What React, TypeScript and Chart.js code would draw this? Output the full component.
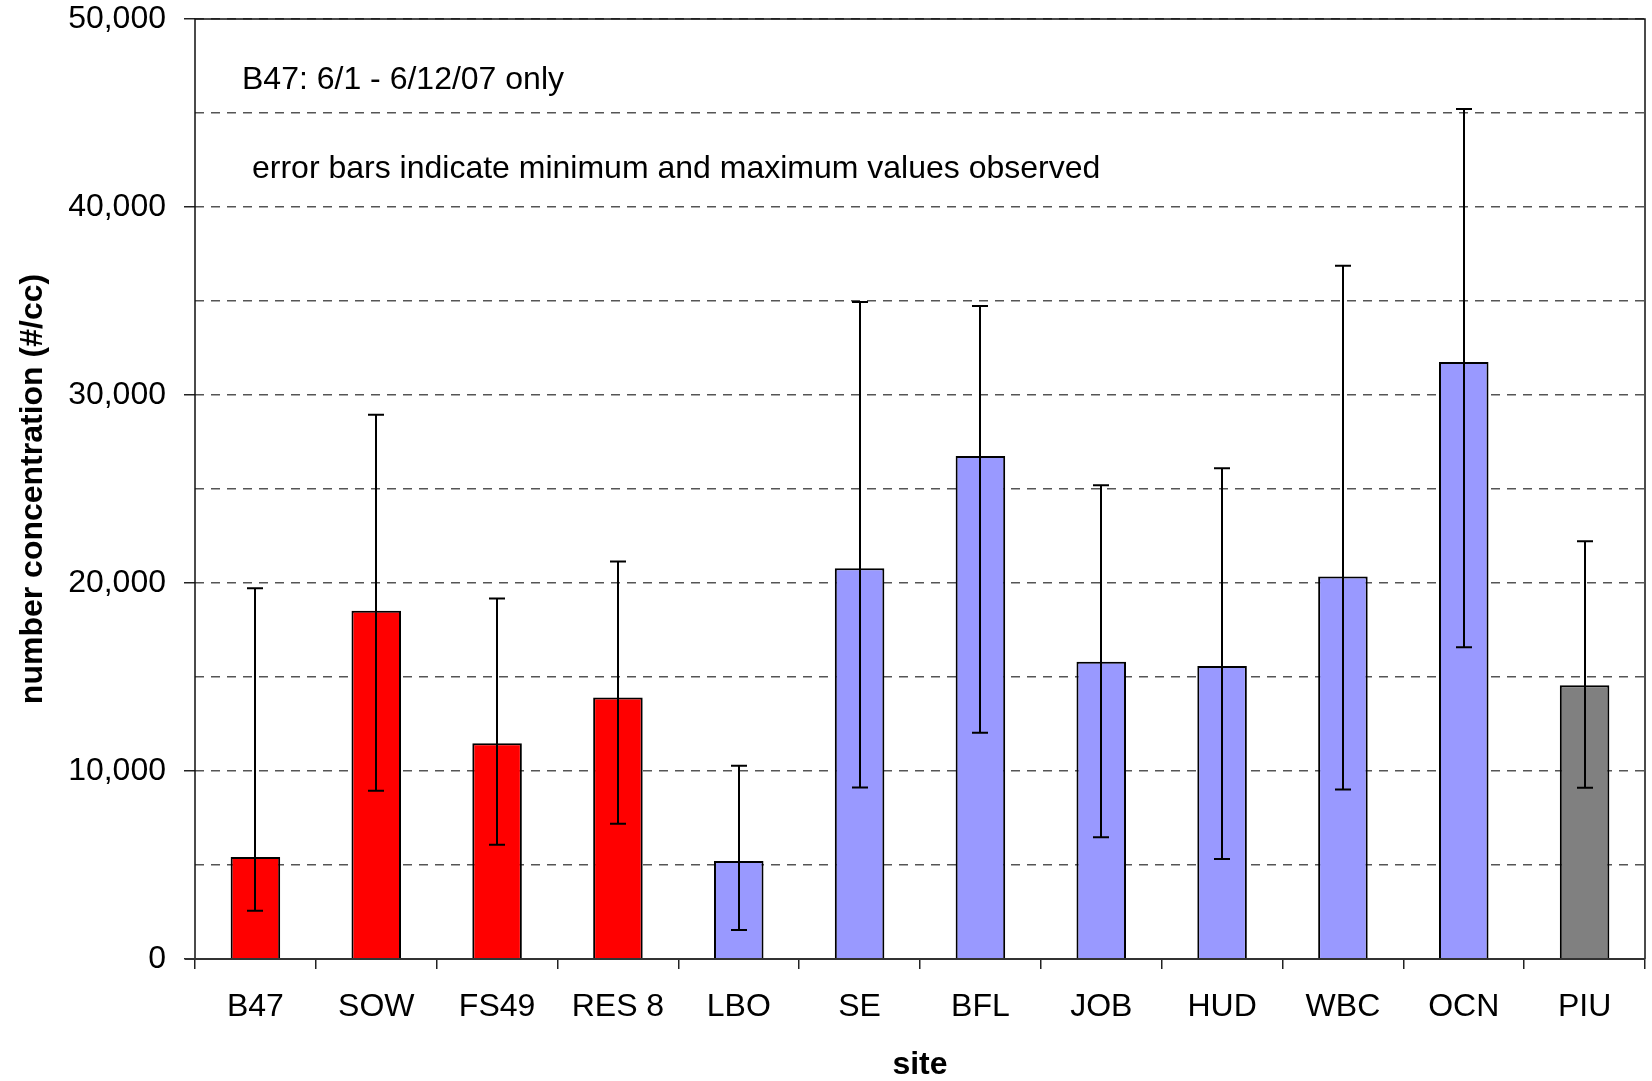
import React, { useEffect, useRef } from 'react';
import { Chart, registerables } from 'chart.js';

Chart.register(...registerables);

const sites = ['B47', 'SOW', 'FS49', 'RES 8', 'LBO', 'SE', 'BFL', 'JOB', 'HUD', 'WBC', 'OCN', 'PIU'];
const meanValues = [5420, 18520, 11470, 13910, 5210, 20780, 26760, 15810, 15590, 20340, 31750, 14560];
const minValues = [2560, 8950, 6080, 7200, 1540, 9120, 12030, 6480, 5320, 9010, 16580, 9110];
const maxValues = [19720, 28950, 19170, 21140, 10280, 34950, 34730, 25200, 26100, 36880, 45210, 22220];
const barColors = ['#FF0000', '#FF0000', '#FF0000', '#FF0000', '#9999FF', '#9999FF', '#9999FF', '#9999FF', '#9999FF', '#9999FF', '#9999FF', '#808080'];
const noteLines = ['B47: 6/1 - 6/12/07 only', 'error bars indicate minimum and maximum values observed'];
const yAxisTitle = 'number concentration (#/cc)';
const xAxisTitle = 'site';

const FONT = '"Liberation Sans", Arial, Helvetica, sans-serif';

const errorBarsPlugin = {
  id: 'errorBars',
  afterDatasetsDraw(chart: any) {
    const ctx = chart.ctx;
    const meta = chart.getDatasetMeta(0);
    const y = chart.scales.y;
    ctx.save();
    ctx.strokeStyle = '#000';
    ctx.lineWidth = 2;
    meta.data.forEach((bar: any, i: number) => {
      const x = Math.round(bar.x);
      const yMin = y.getPixelForValue(minValues[i]);
      const yMax = y.getPixelForValue(maxValues[i]);
      const cap = 8;
      ctx.beginPath();
      ctx.moveTo(x, yMin);
      ctx.lineTo(x, yMax);
      ctx.moveTo(x - cap, yMin);
      ctx.lineTo(x + cap, yMin);
      ctx.moveTo(x - cap, yMax);
      ctx.lineTo(x + cap, yMax);
      ctx.stroke();
    });
    ctx.restore();
  },
};

const frameAndNotesPlugin = {
  id: 'frameAndNotes',
  afterDraw(chart: any) {
    const ctx = chart.ctx;
    const a = chart.chartArea;
    ctx.save();
    ctx.strokeStyle = '#111';
    ctx.lineWidth = 1.5;
    ctx.beginPath();
    ctx.moveTo(a.left, a.bottom);
    ctx.lineTo(a.left, a.top);
    ctx.lineTo(a.right, a.top);
    ctx.lineTo(a.right, a.bottom);
    ctx.stroke();
    ctx.strokeStyle = '#333';
    ctx.lineWidth = 2;
    ctx.beginPath();
    ctx.moveTo(a.left - 10, a.bottom);
    ctx.lineTo(a.right, a.bottom);
    ctx.stroke();
    ctx.fillStyle = '#000';
    ctx.font = `32px ${FONT}`;
    ctx.textAlign = 'left';
    ctx.textBaseline = 'alphabetic';
    ctx.fillText(noteLines[0], a.left + 47, a.top + 70);
    ctx.fillText(noteLines[1], a.left + 57, a.top + 159);
    ctx.restore();
  },
};

export default function App() {
  const ref = useRef<HTMLCanvasElement | null>(null);

  useEffect(() => {
    document.body.style.margin = '0';
    const canvas = ref.current;
    if (!canvas) return;
    const chart = new Chart(canvas, {
      type: 'bar',
      data: {
        labels: sites,
        datasets: [
          {
            data: meanValues,
            backgroundColor: barColors,
            borderColor: '#000',
            borderWidth: 2,
            categoryPercentage: 1,
            barPercentage: 0.41,
          },
        ],
      },
      options: {
        responsive: false,
        animation: false,
        devicePixelRatio: 1,
        layout: { padding: { top: 0, right: 7, bottom: 0, left: 0 } },
        plugins: {
          legend: { display: false },
          tooltip: { enabled: false },
          title: { display: false },
        },
        scales: {
          x: {
            offset: true,
            grid: {
              offset: true,
              drawOnChartArea: false,
              drawTicks: true,
              tickLength: 10,
              color: '#222',
              lineWidth: 1.5,
            },
            border: { display: false },
            ticks: {
              color: '#000',
              padding: 19,
              maxRotation: 0,
              autoSkip: false,
              font: { family: FONT, size: 32, lineHeight: 1.2 },
            },
            title: {
              display: true,
              text: xAxisTitle,
              color: '#000',
              padding: { top: 1, bottom: 0 },
              font: { family: FONT, size: 32, weight: 'bold', lineHeight: 1.0 },
            },
            afterFit: (s: any) => {
              s.height = 122;
            },
          },
          y: {
            min: 0,
            max: 50000,
            grid: {
              color: '#555',
              lineWidth: 1.5,
              drawTicks: true,
              tickLength: 11,
              tickWidth: 1.5,
              tickColor: (c: any) => (c.tick && c.tick.value % 10000 === 0 ? '#222' : 'rgba(0,0,0,0)'),
            },
            border: { display: false, dash: [9, 7] },
            ticks: {
              stepSize: 5000,
              color: '#000',
              padding: 18,
              font: { family: FONT, size: 32, lineHeight: 1.2 },
              callback: (v: any) => (Number(v) % 10000 === 0 ? Number(v).toLocaleString('en-US') : ''),
            },
            title: {
              display: true,
              text: yAxisTitle,
              color: '#000',
              padding: { top: 14, bottom: 0 },
              font: { family: FONT, size: 32, weight: 'bold', lineHeight: 1.2 },
            },
            afterFit: (s: any) => {
              s.width = 195;
              s.paddingTop = 19;
              s.paddingBottom = 0;
            },
          },
        },
      },
      plugins: [errorBarsPlugin, frameAndNotesPlugin],
    });
    return () => chart.destroy();
  }, []);

  return (
    <div style={{ position: 'fixed', left: 0, top: 0, width: 1652, height: 1081, background: '#fff' }}>
      <canvas ref={ref} width={1652} height={1081} style={{ display: 'block', width: 1652, height: 1081 }} />
    </div>
  );
}
